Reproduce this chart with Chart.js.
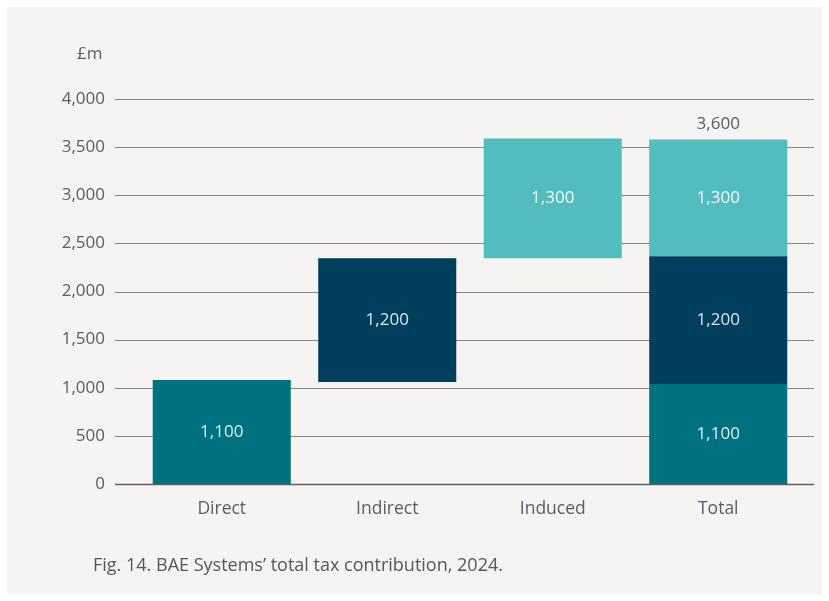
<!DOCTYPE html>
<html>
<head>
<meta charset="utf-8">
<script src="https://cdn.jsdelivr.net/npm/chart.js@4"></script>
<style>
    html, body { margin: 0; padding: 0; background: #ffffff; }
    body { width: 829px; height: 601px; position: relative; overflow: hidden; font-family: "Open Sans", "Noto Sans", sans-serif; }
    #panel { position: absolute; left: 7px; top: 7px; width: 815px; height: 587px; background: #f5f4f2; }
    #chart-box { position: absolute; left: 0; top: 0; width: 815px; height: 587px; }
    #unit { position: absolute; left: 70px; top: 34px; font-size: 17px; color: #5b5b66; }
    #caption { position: absolute; left: 86px; top: 545px; font-size: 18px; color: #55555f; }
</style>
</head>
<body>
<div id="panel">
    <div id="chart-box"><canvas id="tax-chart" width="815" height="587"></canvas></div>
    <div id="unit">£m</div>
    <div id="caption">Fig. 14. BAE Systems’ total tax contribution, 2024.</div>
</div>
<script>
// Categories and bar ranges (start, end) in £m
const categories = ['Direct', 'Indirect', 'Induced', 'Total'];
const directRanges = [[0, 1080], null, null, [0, 1040]];
const indirectRanges = [null, [1060, 2345], null, [1040, 2365]];
const inducedRanges = [null, null, [2345, 3590], [2365, 3580]];

// Text printed on the bars
const directLabels = ['1,100', '', '', '1,100'];
const indirectLabels = ['', '1,200', '', '1,200'];
const inducedLabels = ['', '', '1,300', '1,300'];
const totalLabel = '3,600';

const yTicks = [0, 500, 1000, 1500, 2000, 2500, 3000, 3500, 4000];

const textGrey = '#5b5b66';
const fontFamily = '"Open Sans", "Noto Sans", sans-serif';
const labelFont = '17px ' + fontFamily;

// horizontal grid lines that run wider than the plot area
const gridPlugin = {
    id: 'wideGrid',
    beforeDatasetsDraw(chart) {
        const { ctx } = chart;
        const y = chart.scales.y;
        ctx.save();
        y.ticks.forEach(t => {
            const py = Math.round(y.getPixelForValue(t.value)) + 0.5;
            ctx.strokeStyle = t.value === 0 ? '#5e5e66' : '#85848b';
            ctx.lineWidth = t.value === 0 ? 1.5 : 1.2;
            ctx.beginPath();
            ctx.moveTo(108, py);
            ctx.lineTo(807, py);
            ctx.stroke();
        });
        ctx.restore();
    }
};

const barLabelPlugin = {
    id: 'barLabels',
    afterDatasetsDraw(chart) {
        const { ctx } = chart;
        ctx.save();
        ctx.font = labelFont;
        ctx.textAlign = 'center';
        ctx.textBaseline = 'middle';
        chart.data.datasets.forEach((ds, i) => {
            const meta = chart.getDatasetMeta(i);
            meta.data.forEach((bar, j) => {
                const txt = ds.barText[j];
                if (!txt) return;
                const mid = (bar.y + bar.base) / 2;
                ctx.fillStyle = ds.textColor;
                ctx.fillText(txt, bar.x, mid);
            });
        });
        // total above the last column
        const topMeta = chart.getDatasetMeta(2);
        const last = topMeta.data[3];
        ctx.fillStyle = textGrey;
        ctx.textBaseline = 'alphabetic';
        ctx.fillText(totalLabel, last.x, last.y - 10);
        ctx.restore();
    }
};

const ctx = document.getElementById('tax-chart').getContext('2d');
const taxChart = new Chart(ctx, {
    type: 'bar',
    data: {
        labels: categories,
        datasets: [
            { data: directRanges, backgroundColor: '#00727f', barText: directLabels, textColor: '#d9eef0' },
            { data: indirectRanges, backgroundColor: '#003e5d', barText: indirectLabels, textColor: '#d9e6ee' },
            { data: inducedRanges, backgroundColor: '#52bcbf', barText: inducedLabels, textColor: '#f2fbfb' }
        ]
    },
    options: {
        responsive: false,
        animation: false,
        layout: { padding: { left: 0, right: 21, top: 92, bottom: 66 } },
        datasets: {
            bar: { grouped: false, barPercentage: 0.834, categoryPercentage: 1, borderWidth: 0 }
        },
        plugins: {
            legend: { display: false },
            tooltip: { enabled: false }
        },
        scales: {
            x: {
                grid: { display: false },
                border: { display: false },
                ticks: { color: textGrey, font: { size: 17.5, family: fontFamily }, padding: 7 },
                afterFit: scale => { scale.height = 44; }
            },
            y: {
                min: 0,
                max: 4000,
                afterBuildTicks: scale => { scale.ticks = yTicks.map(v => ({ value: v })); },
                grid: { display: false },
                border: { display: false },
                ticks: {
                    color: textGrey,
                    font: { size: 17, family: fontFamily },
                    padding: 26,
                    callback: v => v.toLocaleString('en-GB')
                },
                afterFit: scale => { scale.width = 132; }
            }
        }
    },
    plugins: [gridPlugin, barLabelPlugin]
});
</script>
</body>
</html>
